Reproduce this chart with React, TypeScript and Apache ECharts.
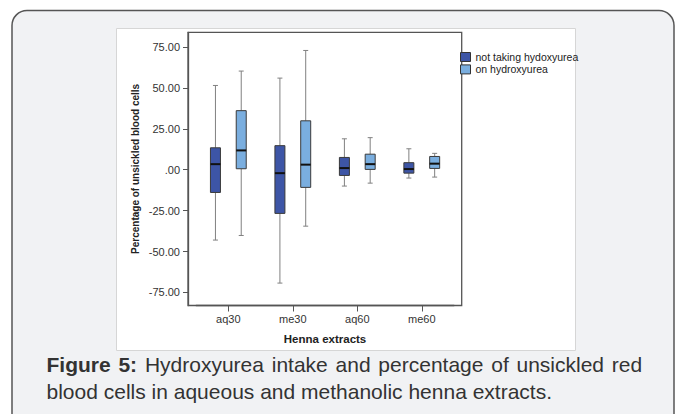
import React, { useEffect, useRef } from 'react';
import * as echarts from 'echarts';

const categories = ['aq30', 'me30', 'aq60', 'me60'];
const seriesNames = ['not taking hydoxyurea', 'on hydroxyurea'];
// each row: [low whisker, Q1, median, Q3, high whisker]
const notTaking = [
  [-43.0, -13.9, 3.4, 13.4, 51.5],
  [-69.3, -26.7, -2.1, 14.7, 56.0],
  [-10.0, -3.5, 1.0, 7.5, 18.9],
  [-5.1, -2.1, 0.4, 4.3, 12.8],
];
const onHydroxyurea = [
  [-40.2, 0.6, 11.8, 36.1, 60.3],
  [-34.5, -10.8, 3.1, 29.9, 72.9],
  [-8.2, 0.2, 3.4, 9.5, 19.6],
  [-4.5, 0.8, 3.7, 8.1, 10.0],
];
const yTicks = [-75, -50, -25, 0, 25, 50, 75];
const colors = ['#3d55a6', '#7aaedf'];

const FONT = '"Liberation Sans", Arial, Helvetica, sans-serif';

const captionWords = ['Hydroxyurea', 'intake', 'and', 'percentage', 'of', 'unsickled', 'red'];
const captionLine2 = 'blood cells in aqueous and methanolic henna extracts.';

function makeRender(side: number) {
  return (params: any, api: any) => {
    const ci = api.value(0);
    const band = api.size([1, 0])[0];
    const c = api.coord([ci, 0]);
    const cx = c[0] + side * band * 0.2;
    const y = (v: number) => api.coord([ci, v])[1];
    const low = y(api.value(1));
    const q1 = y(api.value(2));
    const med = y(api.value(3));
    const q3 = y(api.value(4));
    const high = y(api.value(5));
    const bw = 10;
    const cap = 2.5;
    const wStyle = { stroke: '#808080', lineWidth: 1 };
    return {
      type: 'group',
      children: [
        { type: 'line', shape: { x1: cx, y1: high, x2: cx, y2: q3 }, style: wStyle },
        { type: 'line', shape: { x1: cx, y1: q1, x2: cx, y2: low }, style: wStyle },
        { type: 'line', shape: { x1: cx - cap, y1: high, x2: cx + cap, y2: high }, style: wStyle },
        { type: 'line', shape: { x1: cx - cap, y1: low, x2: cx + cap, y2: low }, style: wStyle },
        {
          type: 'rect',
          shape: { x: cx - bw / 2, y: q3, width: bw, height: q1 - q3 },
          style: { fill: colors[side < 0 ? 0 : 1], stroke: '#3a3a3a', lineWidth: 1 },
        },
        {
          type: 'line',
          shape: { x1: cx - bw / 2, y1: med, x2: cx + bw / 2, y2: med },
          style: { stroke: '#111', lineWidth: 2 },
        },
      ],
    };
  };
}

export default function App() {
  const ref = useRef<HTMLDivElement>(null);
  useEffect(() => {
    if (!ref.current) return;
    const chart = echarts.init(ref.current, null, { renderer: 'svg' });
    const toData = (rows: number[][]) => rows.map((r, i) => [i, ...r]);
    const yMin = -83;
    const yMax = 84;
    const line1 = '{b|Figure}{s| }{b|5:}{s| }' + captionWords.join('{s| }');
    chart.setOption({
      animation: false,
      backgroundColor: '#ffffff',
      textStyle: { fontFamily: FONT },
      graphic: [
        {
          type: 'rect',
          z: -10,
          shape: { x: 12, y: 10.5, width: 662, height: 420, r: 15 },
          style: { fill: '#f1f2f4', stroke: '#555', lineWidth: 1.5 },
        },
        {
          type: 'rect',
          z: -9,
          shape: { x: 116.5, y: 28.5, width: 459, height: 322 },
          style: { fill: '#ffffff', stroke: '#d6d6d6', lineWidth: 1 },
        },
        {
          type: 'text',
          z: 5,
          style: {
            x: 46.5,
            y: 364,
            verticalAlign: 'middle',
            text: line1,
            fill: '#333',
            font: `21px ${FONT}`,
            lineHeight: 24,
            rich: {
              b: { fontWeight: 'bold', fontSize: 21, fontFamily: FONT, fill: '#333', lineHeight: 24 },
              s: { fontSize: 28, fontFamily: FONT, lineHeight: 24 },
            },
          },
        },
        {
          type: 'text',
          z: 5,
          style: {
            x: 46.5,
            y: 391,
            verticalAlign: 'middle',
            text: captionLine2,
            fill: '#333',
            font: `21px ${FONT}`,
          },
        },
      ],
      legend: {
        orient: 'vertical',
        left: 460,
        top: 50.8,
        padding: 0,
        itemGap: 0,
        itemWidth: 10,
        itemHeight: 9,
        icon: 'rect',
        textStyle: { fontSize: 10.5, color: '#222', fontFamily: FONT, lineHeight: 12.4 },
        data: seriesNames.map((n, i) => ({
          name: n,
          itemStyle: { color: colors[i], borderColor: '#333', borderWidth: 1 },
        })),
      },
      grid: [
        {
          left: 188,
          top: 32.3,
          width: 273.7,
          height: 273.2,
          show: true,
          borderColor: '#555',
          borderWidth: 1.3,
          backgroundColor: 'transparent',
        },
        { left: 196.1, top: 32.3, width: 257.9, height: 273.2 },
      ],
      xAxis: [
        { gridIndex: 0, type: 'value', min: 0, max: 1, show: false },
        {
          gridIndex: 1,
          type: 'category',
          data: categories,
          boundaryGap: true,
          position: 'bottom',
          axisLine: { show: true, onZero: false, lineStyle: { color: '#555', width: 1.3 } },
          axisTick: { show: true, alignWithLabel: true, length: 6, lineStyle: { color: '#555' } },
          axisLabel: { fontSize: 11, color: '#333', margin: 8, fontFamily: FONT },
          name: 'Henna extracts',
          nameLocation: 'middle',
          nameGap: 27,
          nameTextStyle: { fontSize: 11.5, fontWeight: 'bold', color: '#222', fontFamily: FONT },
        },
      ],
      yAxis: [
        {
          gridIndex: 0,
          type: 'value',
          min: yMin,
          max: yMax,
          splitLine: { show: false },
          axisLine: { show: true, lineStyle: { color: '#555', width: 1.3 } },
          axisTick: { show: true, length: 5, customValues: yTicks, lineStyle: { color: '#555' } },
          axisLabel: {
            customValues: yTicks,
            fontSize: 11,
            color: '#333',
            margin: 8,
            fontFamily: FONT,
            formatter: (v: number) => (v === 0 ? '.00' : v.toFixed(2)),
          },
          name: 'Percentage of unsickled blood cells',
          nameLocation: 'middle',
          nameGap: 48,
          nameTextStyle: { fontSize: 10, fontWeight: 'bold', color: '#222', fontFamily: FONT },
        },
        { gridIndex: 1, type: 'value', min: yMin, max: yMax, show: false },
      ],
      series: [
        {
          name: seriesNames[0],
          type: 'custom',
          xAxisIndex: 1,
          yAxisIndex: 1,
          itemStyle: { color: colors[0], borderColor: '#333', borderWidth: 1 },
          encode: { x: 0, y: [1, 2, 3, 4, 5] },
          renderItem: makeRender(-1),
          data: toData(notTaking),
        },
        {
          name: seriesNames[1],
          type: 'custom',
          xAxisIndex: 1,
          yAxisIndex: 1,
          itemStyle: { color: colors[1], borderColor: '#333', borderWidth: 1 },
          encode: { x: 0, y: [1, 2, 3, 4, 5] },
          renderItem: makeRender(1),
          data: toData(onHydroxyurea),
        },
      ],
    });
    return () => chart.dispose();
  }, []);
  return (
    <div
      ref={ref}
      style={{ position: 'fixed', left: 0, top: 0, width: 675, height: 414, background: '#fff' }}
    />
  );
}
